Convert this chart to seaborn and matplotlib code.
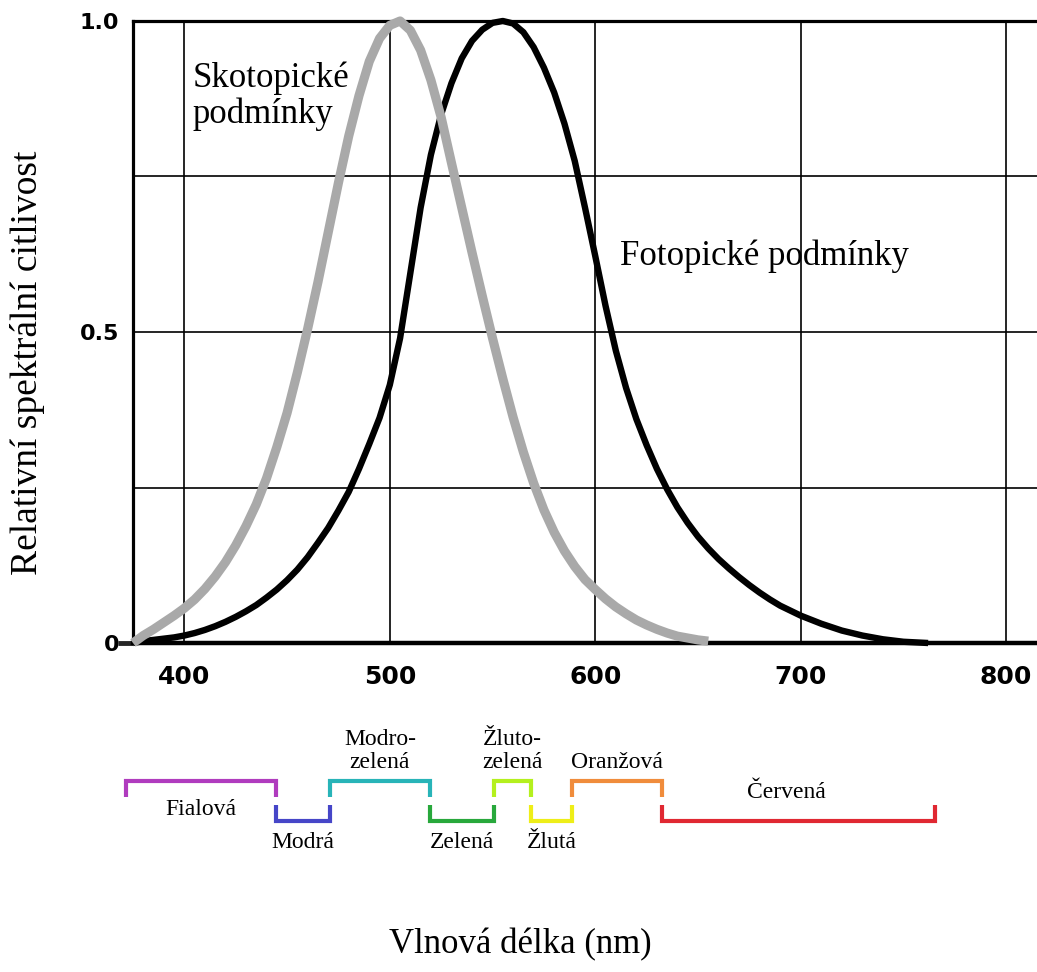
import numpy as np
import pandas as pd
import matplotlib
matplotlib.use("Agg")
import matplotlib.pyplot as plt
import seaborn as sns
from matplotlib.ticker import FixedLocator

# ---------------- data ----------------
scot_nm = [375, 380, 385, 390, 395, 400, 405, 410, 415, 420, 425, 430, 435, 440,
           445, 450, 455, 460, 465, 470, 475, 480, 485, 490, 495, 500, 505, 510,
           515, 520, 525, 530, 535, 540, 545, 550, 555, 560, 565, 570, 575, 580,
           585, 590, 595, 600, 605, 610, 615, 620, 625, 630, 635, 640, 645, 650,
           655]
scot_val = [0.0, 0.012, 0.022, 0.033, 0.044, 0.056, 0.07, 0.087, 0.107, 0.13,
            0.157, 0.188, 0.223, 0.265, 0.315, 0.37, 0.435, 0.505, 0.58, 0.66,
            0.74, 0.815, 0.88, 0.935, 0.972, 0.993, 1.0, 0.985, 0.953, 0.905,
            0.845, 0.772, 0.70, 0.628, 0.558, 0.49, 0.425, 0.363, 0.307, 0.257,
            0.214, 0.178, 0.148, 0.123, 0.102, 0.086, 0.071, 0.058, 0.047, 0.037,
            0.029, 0.022, 0.016, 0.011, 0.008, 0.005, 0.003]

phot_nm = [375, 380, 385, 390, 395, 400, 405, 410, 415, 420, 425, 430, 435, 440,
           445, 450, 455, 460, 465, 470, 475, 480, 485, 490, 495, 500, 505, 510,
           515, 520, 525, 530, 535, 540, 545, 550, 555, 560, 565, 570, 575, 580,
           585, 590, 595, 600, 605, 610, 615, 620, 625, 630, 635, 640, 645, 650,
           655, 660, 665, 670, 675, 680, 685, 690, 695, 700, 710, 720, 730, 740,
           750, 762]
phot_val = [0.0, 0.003, 0.005, 0.007, 0.009, 0.012, 0.016, 0.021, 0.027, 0.034,
            0.042, 0.051, 0.061, 0.073, 0.086, 0.101, 0.118, 0.138, 0.161, 0.185,
            0.213, 0.243, 0.28, 0.32, 0.362, 0.415, 0.49, 0.595, 0.70, 0.785,
            0.85, 0.90, 0.94, 0.968, 0.986, 0.997, 1.0, 0.996, 0.982, 0.958,
            0.925, 0.885, 0.835, 0.775, 0.70, 0.622, 0.542, 0.47, 0.41, 0.36,
            0.318, 0.28, 0.247, 0.218, 0.193, 0.171, 0.152, 0.135, 0.12, 0.106,
            0.093, 0.081, 0.07, 0.06, 0.052, 0.044, 0.031, 0.02, 0.012, 0.006,
            0.002, 0.0]

x_ticks = [400, 500, 600, 700, 800]
y_ticks = [0, 0.5, 1.0]
y_tick_labels = ["0", "0.5", "1.0"]

band_names = ["Fialová", "Modrá", "Modro-\nzelená", "Zelená",
              "Žluto-\nzelená", "Žlutá", "Oranžová", "Červená"]
band_start = [371.6, 444.6, 470.9, 519.5, 550.5, 568.7, 588.6, 632.4]
band_end = [444.6, 470.9, 519.5, 550.5, 568.7, 588.6, 632.4, 765.3]
band_level = [1, 0, 1, 0, 1, 0, 1, 0]

# ---------------- style ----------------
band_colors = ["#b03cbe", "#4646c8", "#28b4b8", "#28a83c",
               "#b4f01e", "#eeee18", "#f08c3c", "#e02832"]
band_label_side = ["in", "out", "out", "out", "out", "out", "out", "in"]

sns.set_theme(style="white")
plt.rcParams['font.family'] = ['Liberation Serif', 'DejaVu Serif']

W, H = 1037, 972
fig = plt.figure(figsize=(W / 100, H / 100), dpi=100)
fig.patch.set_facecolor("white")

ax = fig.add_axes([133 / W, 1 - 643 / H, 1 - 133 / W, (643 - 21) / H])
ax.set_facecolor("white")

sns.lineplot(x=phot_nm, y=phot_val, ax=ax, color="black", linewidth=4.6,
             zorder=3, clip_on=False, solid_capstyle="butt",
             solid_joinstyle="round")
sns.lineplot(x=scot_nm, y=scot_val, ax=ax, color="#a9a9a9", linewidth=6.6,
             zorder=4, clip_on=False, solid_capstyle="butt",
             solid_joinstyle="round")

ax.set_xlim(375, 815)
ax.set_ylim(0, 1.0)
ax.set_xticks(x_ticks)
ax.set_xticklabels([str(t) for t in x_ticks])
ax.set_yticks(y_ticks)
ax.set_yticklabels(y_tick_labels)
ax.yaxis.set_minor_locator(FixedLocator([0.25, 0.75]))
ax.grid(True, which="major", axis="both", color="black", linewidth=1.2)
ax.grid(True, which="minor", axis="y", color="black", linewidth=1.2)
ax.set_axisbelow(True)
ax.set_xlabel("")
ax.set_ylabel("")

ax.spines["right"].set_visible(False)
ax.spines["left"].set_linewidth(2.3)
ax.spines["top"].set_linewidth(2.3)
ax.spines["bottom"].set_linewidth(3.2)
for s in ["left", "top", "bottom"]:
    ax.spines[s].set_color("black")
    ax.spines[s].set_zorder(2)

ax.tick_params(axis="x", which="both", length=0, pad=16, labelsize=18)
ax.tick_params(axis="y", which="both", length=0, pad=10, labelsize=16)
for lbl in ax.get_xticklabels() + ax.get_yticklabels():
    lbl.set_fontfamily("DejaVu Sans")
    lbl.set_fontweight("heavy")
    lbl.set_color("black")
# small thick bar at zero extending left of the axis
t0 = ax.yaxis.get_major_ticks()[0]
t0.tick1line.set_visible(True)
t0.tick1line.set_markersize(11)
t0.tick1line.set_markeredgewidth(3.5)
t0.tick1line.set_color("black")

ax.text(404, 0.879, "Skotopické\npodmínky", fontsize=25, ha="left",
        va="center", linespacing=1.12, color="black", zorder=5)
ax.text(612, 0.622, "Fotopické podmínky", fontsize=25, ha="left",
        va="center", color="black", zorder=5)

# ---------------- colour bands ----------------
ax2 = fig.add_axes([133 / W, 1 - 880 / H, 1 - 133 / W, 180 / H])
ax2.set_xlim(ax.get_xlim())
ax2.set_ylim(-1.475, 3.025)
ax2.axis("off")
tick = 0.4
for name, s, e, lev, col, side in zip(band_names, band_start, band_end,
                                       band_level, band_colors, band_label_side):
    if lev == 1:
        ys = [1 - tick, 1, 1, 1 - tick]
    else:
        ys = [tick, 0, 0, tick]
    ax2.plot([s, s, e, e], ys, color=col, linewidth=3.0, clip_on=False,
             solid_joinstyle="miter", solid_capstyle="butt")
    xm = (s + e) / 2
    if side == "in":
        ty = 0.3 if lev == 1 else 0.72
        va = "center"
    elif lev == 1:
        ty, va = 1.2, "bottom"
    else:
        ty, va = -0.28, "top"
    if name == "Červená":
        xm -= 6
    ax2.text(xm, ty, name, fontsize=17, ha="center", va=va, linespacing=1.12,
             color="black", clip_on=False)

fig.text(520 / W, 1 - 945 / H, "Vlnová délka (nm)", fontsize=25,
         ha="center", va="center", color="black")
fig.text(28 / W, 1 - 363 / H, "Relativní spektrální citlivost", fontsize=27,
         ha="center", va="center", rotation=90, color="black")

fig.savefig("out.png", dpi=100, facecolor="white")
